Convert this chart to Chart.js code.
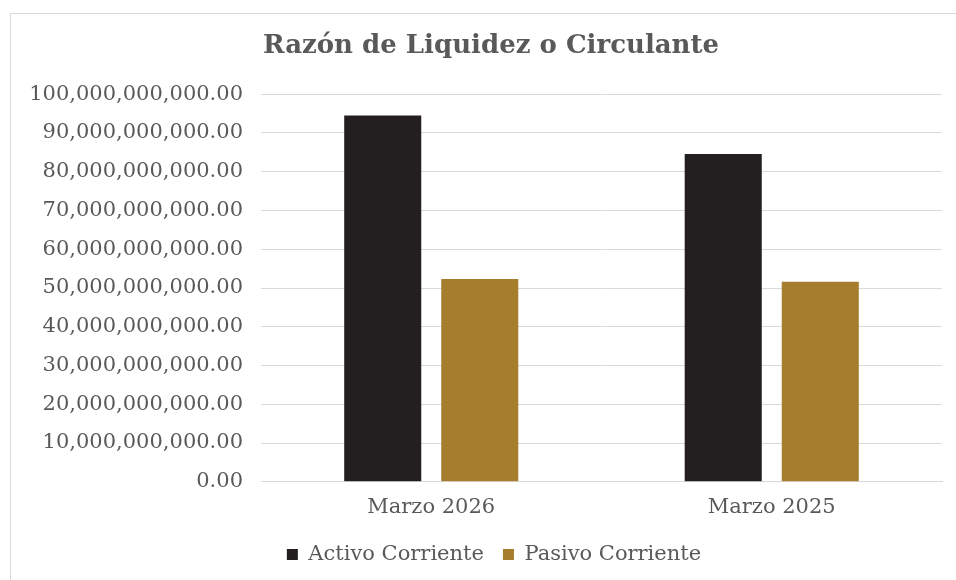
<!DOCTYPE html>
<html>
<head>
<meta charset="utf-8">
<script src="https://cdn.jsdelivr.net/npm/chart.js@4.4.1/dist/chart.umd.min.js"></script>
<style>
  html, body { margin: 0; padding: 0; background: #ffffff; overflow: hidden; }
  #frame { position: absolute; left: 10px; top: 13px; width: 960px; height: 600px;
           border-left: 1px solid #d9d9d9; border-top: 1px solid #d9d9d9; box-sizing: border-box; }
  #wrap { position: absolute; left: 0; top: 0; width: 956px; height: 580px; }
</style>
</head>
<body>
<div id="frame"></div>
<div id="wrap"><canvas id="c" width="956" height="580"></canvas></div>
<script>
const titleText = 'Razón de Liquidez o Circulante';
const categories = ['Marzo 2026', 'Marzo 2025'];
const activoCorriente = [94.5e9, 84.6e9];
const pasivoCorriente = [52.3e9, 51.6e9];
const seriesNames = ['Activo Corriente', 'Pasivo Corriente'];
const yMax = 100e9;
const yStep = 10e9;

const textColor = '#595959';
const fontFamily = '"DejaVu Serif", "Liberation Serif", serif';
const fmt = new Intl.NumberFormat('en-US', { minimumFractionDigits: 2, maximumFractionDigits: 2 });

// Center title and legend on the full (framed) chart width like the original
const recenter = {
  id: 'recenter',
  afterLayout(chart) {
    if (chart.titleBlock) { chart.titleBlock.left = 40; }
    if (chart.legend) { chart.legend.left = 46; }
  }
};

new Chart(document.getElementById('c'), {
  type: 'bar',
  data: {
    labels: categories,
    datasets: [
      { label: seriesNames[0], data: activoCorriente, backgroundColor: '#231F20',
        categoryPercentage: 0.57, barPercentage: 0.794 },
      { label: seriesNames[1], data: pasivoCorriente, backgroundColor: '#A67C2D',
        categoryPercentage: 0.57, barPercentage: 0.794 }
    ]
  },
  plugins: [recenter],
  options: {
    responsive: false,
    animation: false,
    layout: { padding: { left: 0, right: 14, top: 0, bottom: 5 } },
    plugins: {
      title: {
        display: true, text: titleText, color: textColor,
        font: { family: fontFamily, size: 26, weight: 'bold' },
        padding: { top: 31, bottom: 32 }
      },
      legend: {
        position: 'bottom',
        labels: {
          color: textColor, boxWidth: 11, boxHeight: 11, padding: 19,
          font: { family: fontFamily, size: 21 }
        }
      },
      tooltip: { enabled: false }
    },
    scales: {
      x: {
        grid: { display: false },
        border: { display: true, color: '#d9d9d9', width: 1 },
        ticks: { color: textColor, padding: 5, font: { family: fontFamily, size: 21 } }
      },
      y: {
        min: 0, max: yMax,
        grid: { color: '#d9d9d9', lineWidth: 1, drawTicks: false },
        border: { display: false },
        ticks: {
          stepSize: yStep, color: textColor, padding: 18,
          font: { family: fontFamily, size: 21 },
          callback: v => fmt.format(v)
        },
        afterFit: s => { s.width = 261; }
      }
    }
  }
});
</script>
</body>
</html>
